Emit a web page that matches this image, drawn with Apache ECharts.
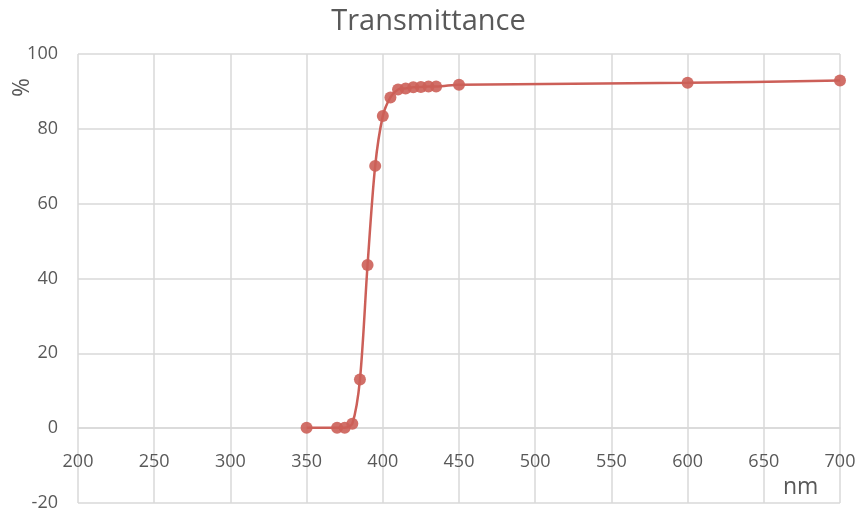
<!DOCTYPE html>
<html>
<head>
<meta charset="utf-8">
<script src="https://cdn.jsdelivr.net/npm/echarts@6/dist/echarts.min.js"></script>
<style>
  html, body { margin: 0; padding: 0; background: #ffffff; }
  #chart { width: 857px; height: 515px; }
</style>
</head>
<body>
<div id="chart"></div>
<script>
// Wavelength (nm) and transmittance (%) measurements
const wavelengths = [350, 370, 375, 380, 385, 390, 395, 400, 405, 410, 415, 420, 425, 430, 435, 450, 600, 700];
const transmittance = [0.1, 0.1, 0.1, 1.2, 13.0, 43.6, 70.1, 83.4, 88.4, 90.5, 90.8, 91.1, 91.2, 91.3, 91.3, 91.8, 92.3, 92.9];

const xTicks = { min: 200, max: 700, step: 50 };
const yTicks = { min: -20, max: 100, step: 20 };

const points = wavelengths.map((w, i) => [w, transmittance[i]]);

const textColor = '#595959';
const gridColor = '#d9d9d9';
const lineColor = '#cc5f58';
const fontFamily = 'Open Sans, Noto Sans, sans-serif';

const gridTop = 54, gridBottom = 12, chartHeight = 515;
const plotHeight = chartHeight - gridTop - gridBottom;
// the wavelength axis sits on the 0 % line, so lift it from the bottom edge
const zeroOffset = plotHeight * (0 - yTicks.min) / (yTicks.max - yTicks.min);

const chart = echarts.init(document.getElementById('chart'));
chart.setOption({
  animation: false,
  backgroundColor: '#ffffff',
  title: {
    text: 'Transmittance',
    left: 'center',
    top: 2,
    textStyle: { color: textColor, fontSize: 29, fontWeight: 'normal', fontFamily: fontFamily }
  },
  grid: { left: 78, right: 17, top: gridTop, bottom: gridBottom, containLabel: false, outerBoundsMode: 'none' },
  xAxis: {
    type: 'value',
    position: 'bottom',
    offset: -zeroOffset,
    min: xTicks.min, max: xTicks.max, interval: xTicks.step,
    axisLine: { onZero: false, lineStyle: { color: gridColor, width: 1.5 } },
    axisTick: { show: false },
    axisLabel: { color: textColor, fontSize: 18, margin: 25, fontFamily: fontFamily },
    splitLine: { show: true, lineStyle: { color: gridColor, width: 1.5 } }
  },
  yAxis: {
    type: 'value',
    min: yTicks.min, max: yTicks.max, interval: yTicks.step,
    axisLine: { show: false },
    axisTick: { show: false },
    axisLabel: { color: textColor, fontSize: 18, margin: 20, fontFamily: fontFamily },
    splitLine: { show: true, lineStyle: { color: gridColor, width: 1.5 } }
  },
  graphic: [
    { type: 'text', x: 783, y: 487, style: { text: 'nm', fill: textColor, font: '23px ' + fontFamily, verticalAlign: 'middle' } },
    { type: 'text', x: 11, y: 97, rotation: Math.PI / 2, style: { text: '%', fill: textColor, font: '23px ' + fontFamily } }
  ],
  series: [{
    type: 'line',
    data: points,
    smooth: 0.3,
    symbol: 'circle',
    symbolSize: 12,
    lineStyle: { color: lineColor, width: 2.5 },
    itemStyle: { color: lineColor, opacity: 0.9 }
  }]
});
</script>
</body>
</html>
